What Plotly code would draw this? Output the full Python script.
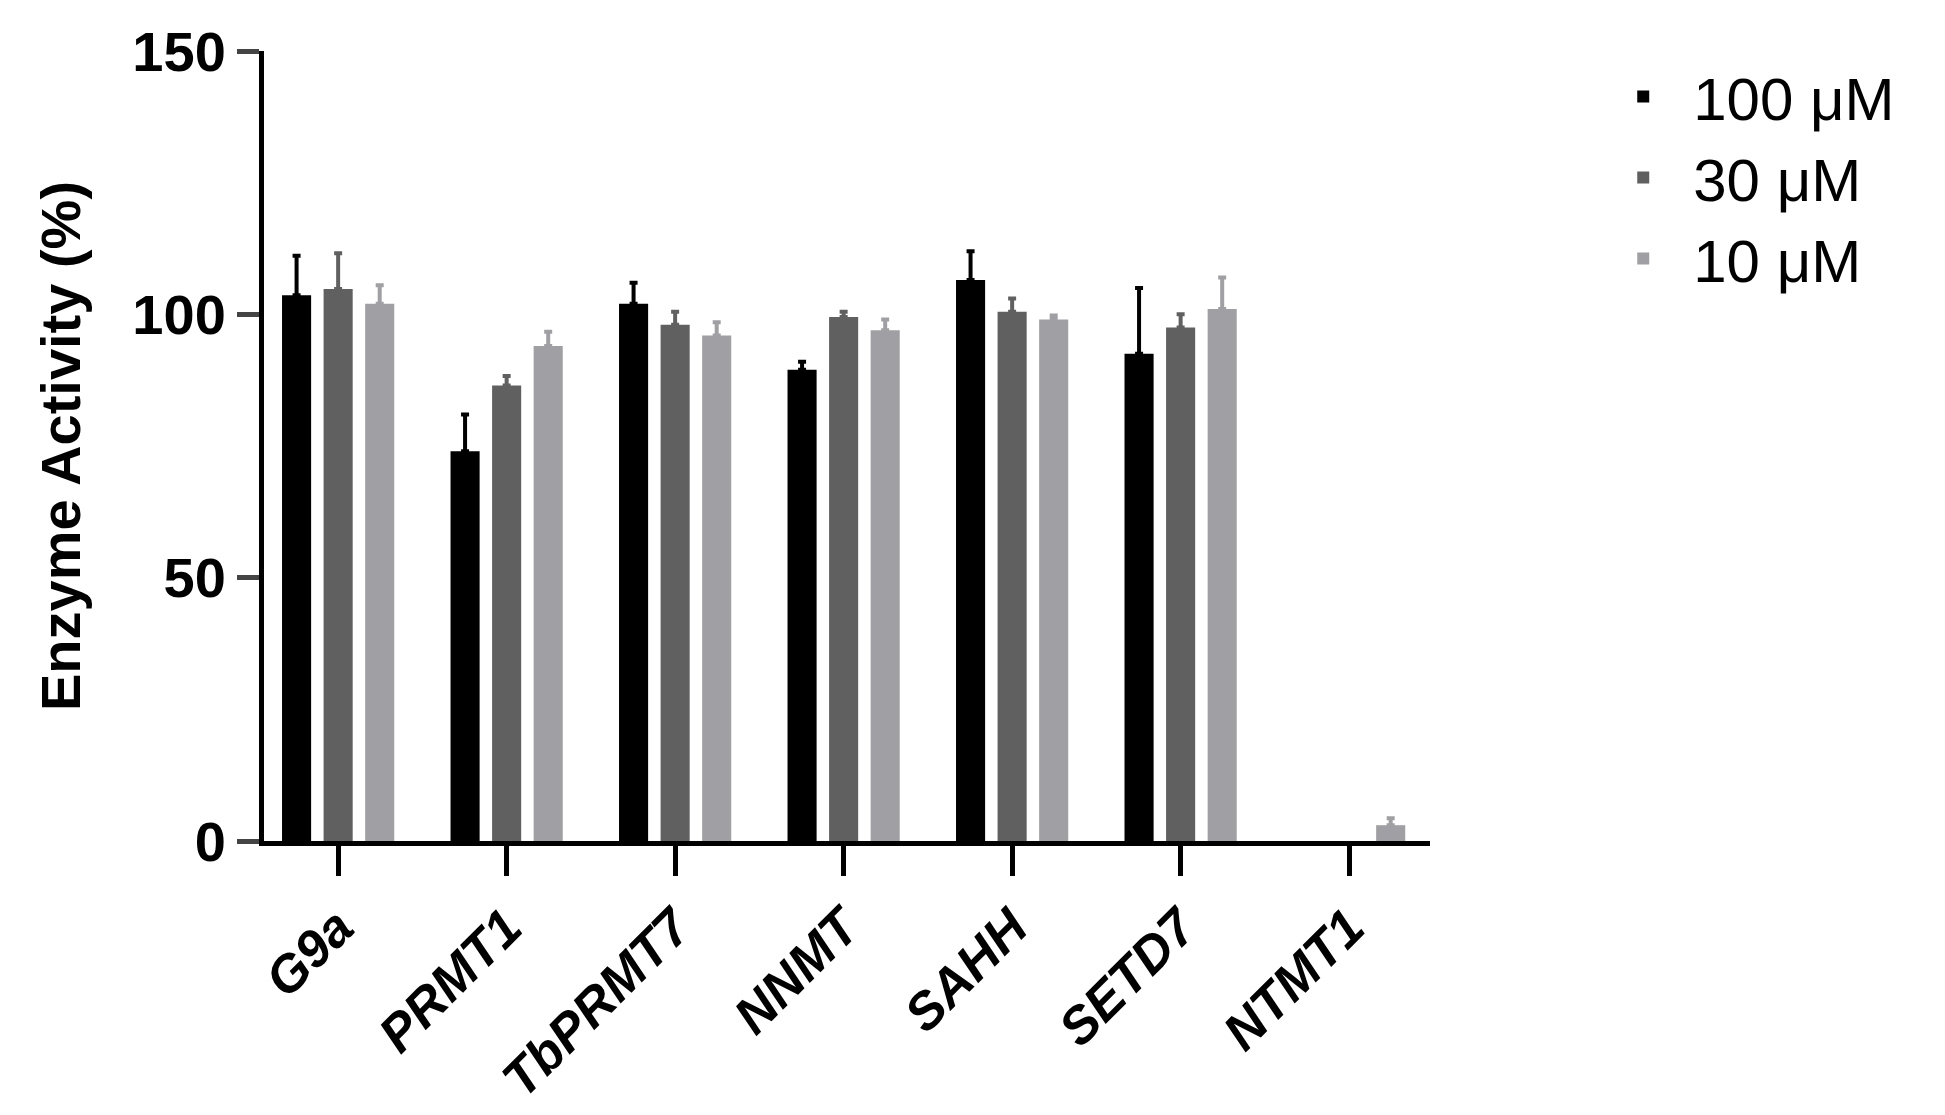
import plotly.graph_objects as go

categories = ["G9a", "PRMT1", "<i>Tb</i>PRMT7", "NNMT", "SAHH", "SETD7", "NTMT1"]
series_names = ["100 μM", "30 μM", "10 μM"]
v100 = [103.6, 74.0, 102.0, 89.5, 106.5, 92.5, None]
e100 = [7.5, 7.0, 4.0, 1.5, 5.5, 12.5, None]
v30 = [104.8, 86.5, 98.0, 99.5, 100.5, 97.5, None]
e30 = [6.8, 1.8, 2.5, 1.0, 2.5, 2.5, None]
v10 = [102.0, 94.0, 96.0, 97.0, 99.0, 101.0, 3.0]
e10 = [3.5, 2.7, 2.5, 2.0, 0.8, 6.0, 1.3]
colors = ["#000000", "#606060", "#a0a0a4"]

fig = go.Figure()
for name, v, e, c in zip(series_names, [v100, v30, v10], [e100, e30, e10], colors):
    fig.add_trace(go.Bar(
        x=categories, y=v, name=name, marker=dict(color=c, line=dict(width=0)),
        error_y=dict(type="data", array=e, arrayminus=[0]*len(e), symmetric=False,
                     color=c, thickness=4, width=4),
    ))

font = "Liberation Sans, Arial, sans-serif"
fig.update_layout(
    width=1945, height=1115, barmode="group", bargap=0.26, bargroupgap=0.3,
    plot_bgcolor="white", paper_bgcolor="white",
    margin=dict(l=256, r=523, t=41, b=282),
    font=dict(family=font, color="black"),
    legend=dict(x=1.14, y=1.0, xanchor="left", yanchor="top",
                font=dict(size=60, family=font), itemwidth=90, tracegroupgap=40,
                traceorder="normal"),
    xaxis=dict(range=[-0.44, 6.48], showline=True, linewidth=5, linecolor="black",
               ticks="outside", ticklen=30, tickwidth=5, tickcolor="black",
               tickangle=-45, tickfont=dict(size=52, family=font, weight="bold", style="italic")),
    yaxis=dict(range=[0, 150], tickvals=[0, 50, 100, 150], showline=True, linewidth=5,
               linecolor="black", ticks="outside", ticklen=22, tickwidth=5, showgrid=False,
               zeroline=False, tickfont=dict(size=56, family=font, weight="bold"),
               title=dict(text="Enzyme Activity (%)", font=dict(size=56, family=font, weight="bold"),
                          standoff=35)),
)
fig.write_html("out.html")
